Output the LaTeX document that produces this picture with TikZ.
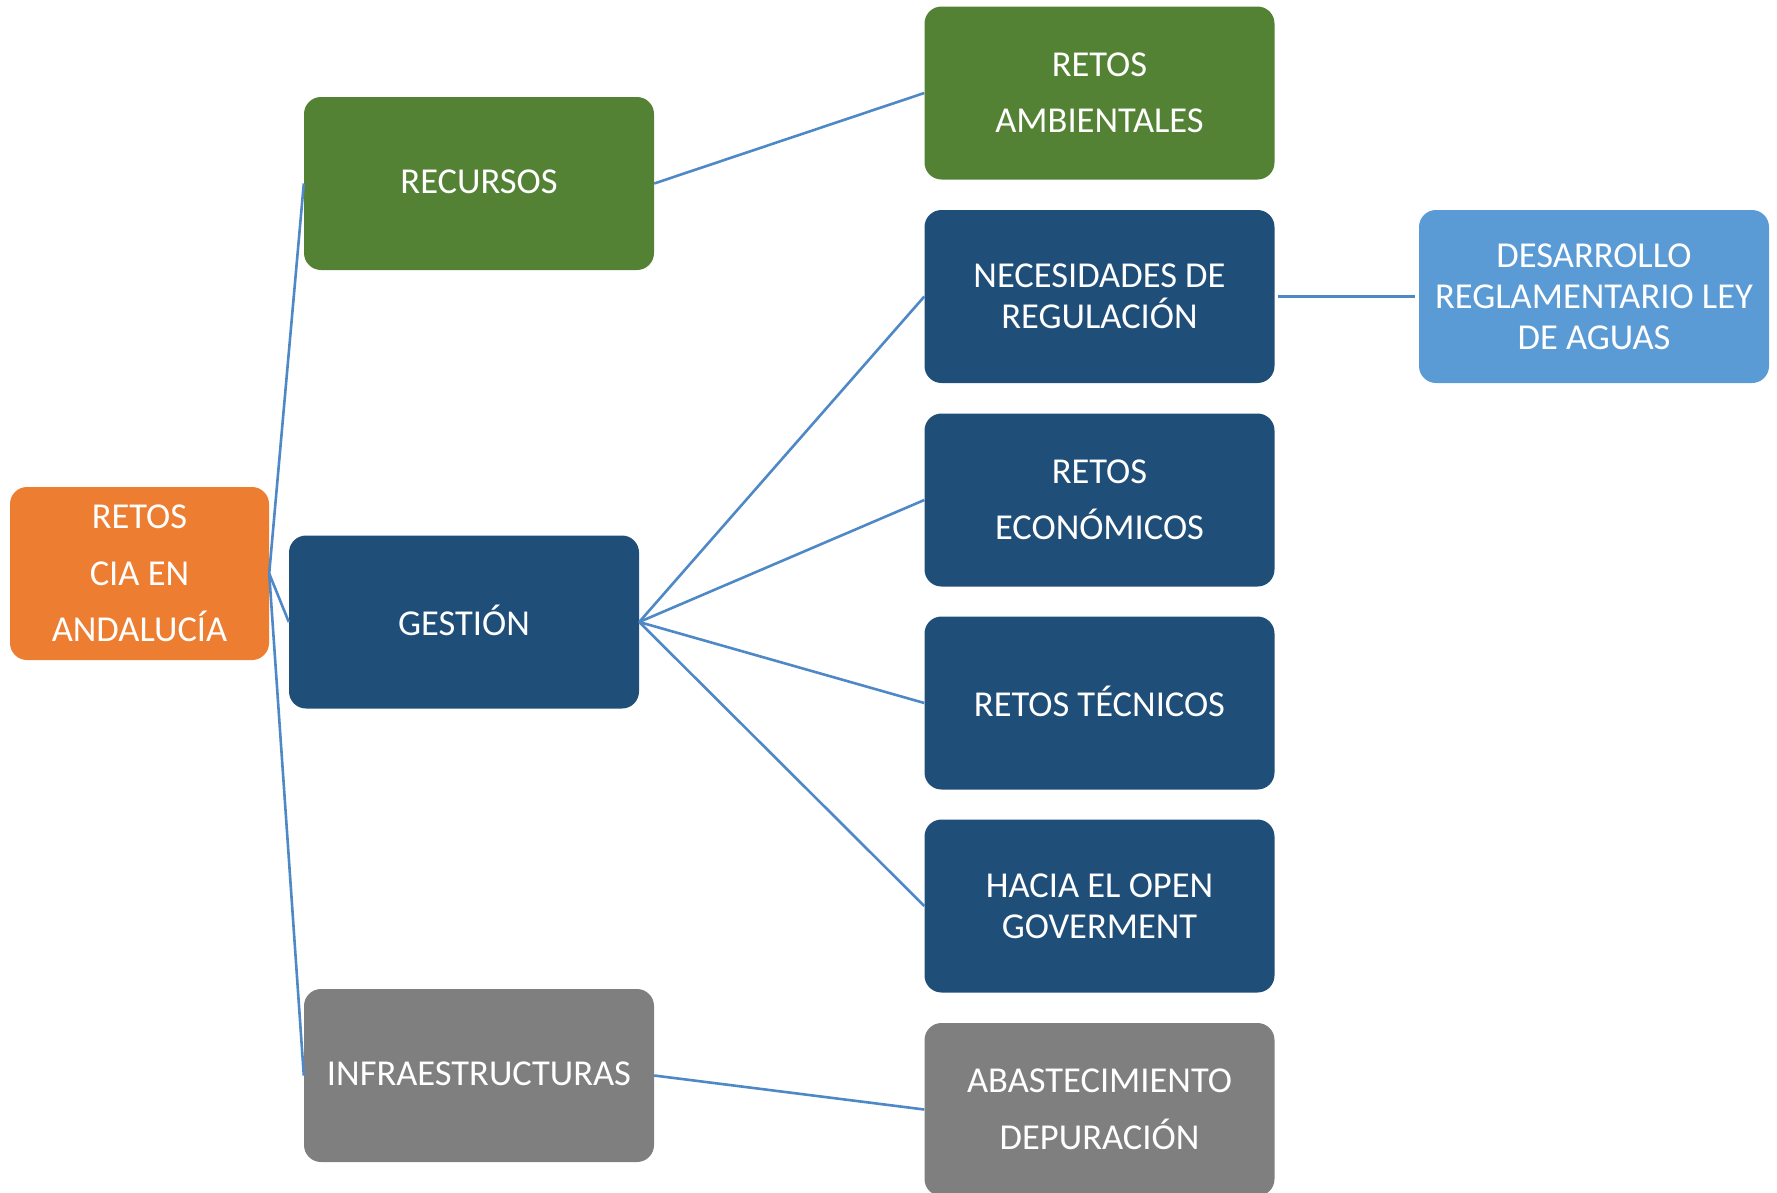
\documentclass[tikz,border=0pt]{standalone}
\usepackage{fontspec}
\setmainfont{Carlito}
\definecolor{cgreen}{HTML}{548235}
\definecolor{cdblue}{HTML}{1F4E79}
\definecolor{corange}{HTML}{ED7D31}
\definecolor{cgray}{HTML}{7F7F7F}
\definecolor{clblue}{HTML}{5B9BD5}
\definecolor{cline}{HTML}{4F88C6}
\tikzset{
  box/.style={rounded corners=17pt, minimum width=350pt, minimum height=173pt,
    inner sep=0pt, align=center, text=white, anchor=center},
  tight/.style={font=\fontsize{36.5}{41}\selectfont},
  loose/.style={font=\fontsize{36.5}{56.5}\selectfont},
  conn/.style={draw=cline, line width=2.6pt}
}
\newcommand{\uplift}[1]{\raisebox{3.5pt}{#1}}
\begin{document}
\begin{tikzpicture}[x=1pt,y=-1pt]
\useasboundingbox (0,0) rectangle (1777,1192);
\clip (0,0) rectangle (1777,1192);
\node[box,loose,fill=corange,minimum width=259pt] (root) at (139.5,573.5) {RETOS\\CIA EN\\ANDALUCÍA};
\node[box,tight,fill=cgreen] (rec) at (479,183.5) {\uplift{RECURSOS}};
\node[box,tight,fill=cdblue] (ges) at (464,622) {\uplift{GESTIÓN}};
\node[box,tight,fill=cgray] (inf) at (479,1075.5) {\uplift{INFRAESTRUCTURAS}};
\node[box,loose,fill=cgreen] (amb) at (1099.5,93) {RETOS\\AMBIENTALES};
\node[box,tight,fill=cdblue] (nec) at (1099.5,296.5) {NECESIDADES DE\\REGULACIÓN};
\node[box,loose,fill=cdblue] (eco) at (1099.5,500) {RETOS\\ECONÓMICOS};
\node[box,tight,fill=cdblue] (tec) at (1099.5,703) {\uplift{RETOS TÉCNICOS}};
\node[box,tight,fill=cdblue] (hac) at (1099.5,906) {HACIA EL OPEN\\GOVERMENT};
\node[box,loose,fill=cgray] (abs) at (1099.5,1109.5) {ABASTECIMIENTO\\DEPURACIÓN};
\node[box,tight,fill=clblue] (des) at (1594,296.5) {DESARROLLO\\REGLAMENTARIO LEY\\DE AGUAS};
\draw[conn] (root.east) -- (rec.west);
\draw[conn] (root.east) -- (ges.west);
\draw[conn] (root.east) -- (inf.west);
\draw[conn] (rec.east) -- (amb.west);
\draw[conn] (ges.east) -- (nec.west);
\draw[conn] (ges.east) -- (eco.west);
\draw[conn] (ges.east) -- (tec.west);
\draw[conn] (ges.east) -- (hac.west);
\draw[conn] (inf.east) -- (abs.west);
\draw[conn,shorten <=3pt,shorten >=4pt] (nec.east) -- (des.west);
\end{tikzpicture}
\end{document}
